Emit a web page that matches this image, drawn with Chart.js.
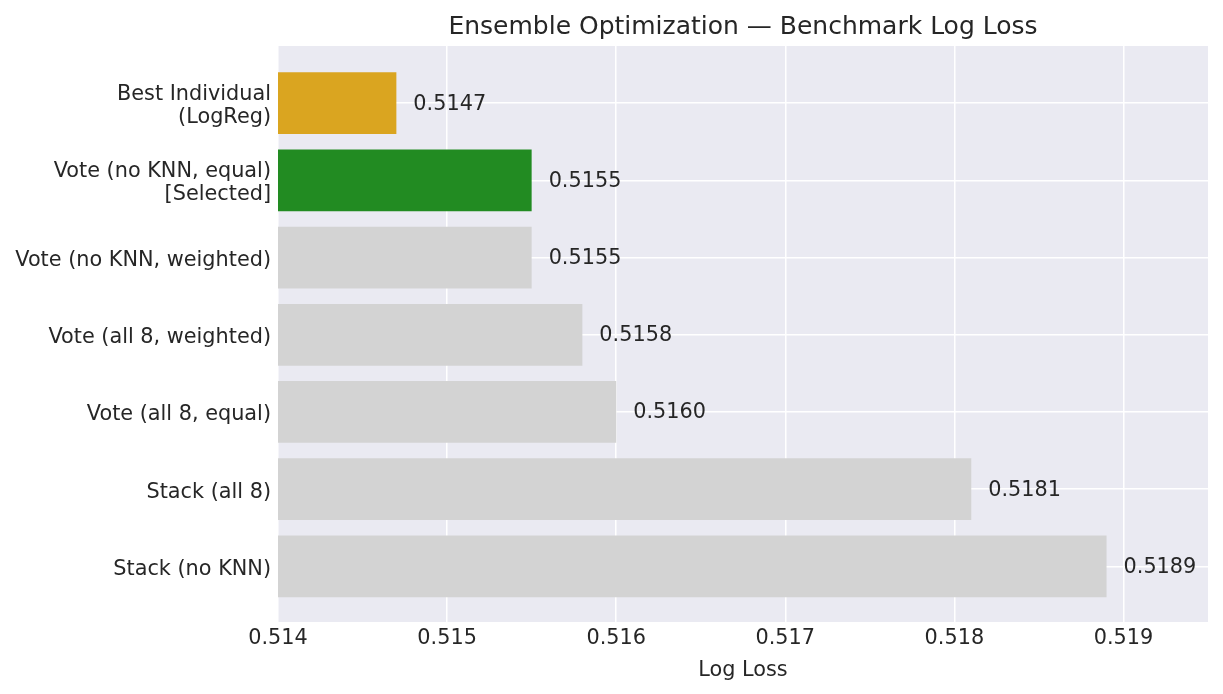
<!DOCTYPE html>
<html>
<head>
<meta charset="utf-8">
<script src="https://cdn.jsdelivr.net/npm/chart.js@4/dist/chart.umd.min.js"></script>
<style>
  body { margin: 0; background: #fff; }
</style>
</head>
<body>
<canvas id="chart" width="1223" height="694"></canvas>
<script>
const labels = [
  ["Best Individual", "(LogReg)"],
  ["Vote (no KNN, equal)", "[Selected]"],
  "Vote (no KNN, weighted)",
  "Vote (all 8, weighted)",
  "Vote (all 8, equal)",
  "Stack (all 8)",
  "Stack (no KNN)",
];
const logLoss = [0.5147, 0.5155, 0.5155, 0.5158, 0.5160, 0.5181, 0.5189];
const barColors = ["#DAA520", "#228B22", "#D3D3D3", "#D3D3D3", "#D3D3D3", "#D3D3D3", "#D3D3D3"];
const xMin = 0.514;
const xMax = 0.5195;

const textColor = "#262626";
const fontFamily = "'DejaVu Sans', sans-serif";

// seaborn-like grey plot background
const plotBg = {
  id: "plotBg",
  beforeDraw(chart) {
    const { ctx, chartArea: a } = chart;
    ctx.save();
    ctx.fillStyle = "#EAEAF2";
    ctx.fillRect(a.left, a.top, a.right - a.left, a.bottom - a.top);
    ctx.restore();
  },
};

// value labels to the right of each bar
const valueLabels = {
  id: "valueLabels",
  afterDatasetsDraw(chart) {
    const { ctx } = chart;
    const meta = chart.getDatasetMeta(0);
    ctx.save();
    ctx.fillStyle = textColor;
    ctx.font = "20.8px " + fontFamily;
    ctx.textAlign = "left";
    ctx.textBaseline = "middle";
    meta.data.forEach((bar, i) => {
      ctx.fillText(logLoss[i].toFixed(4), bar.x + 17, bar.y + 1);
    });
    ctx.restore();
  },
};

const ctx = document.getElementById("chart").getContext("2d");

new Chart(ctx, {
  type: "bar",
  data: {
    datasets: [
      {
        data: logLoss.map((v, i) => ({ x: v, y: i })),
        backgroundColor: barColors,
        borderWidth: 0,
        barPercentage: 0.8,
        categoryPercentage: 1,
      },
    ],
  },
  options: {
    indexAxis: "y",
    responsive: false,
    animation: false,
    layout: { padding: { left: 0, right: 15, top: 0, bottom: 0 } },
    plugins: {
      legend: { display: false },
      tooltip: { enabled: false },
      title: {
        display: true,
        text: "Ensemble Optimization — Benchmark Log Loss",
        color: textColor,
        fullSize: false,
        font: { family: fontFamily, size: 25, weight: "normal", lineHeight: 1.2 },
        padding: { top: 12, bottom: 4 },
      },
    },
    scales: {
      x: {
        type: "linear",
        min: xMin,
        max: xMax,
        grid: { color: "#ffffff", lineWidth: 1.5, drawTicks: false },
        border: { display: false },
        ticks: {
          stepSize: 0.001,
          includeBounds: false,
          color: textColor,
          padding: 4,
          font: { family: fontFamily, size: 20.8, lineHeight: 1.2 },
          callback: (v) => Number(v).toFixed(3),
        },
        title: {
          display: true,
          text: "Log Loss",
          color: textColor,
          font: { family: fontFamily, size: 20.8, lineHeight: 1.2 },
          padding: { top: 0, bottom: 10.5 },
        },
        afterFit(scale) {
          scale.height = 72;
        },
      },
      y: {
        type: "linear",
        min: -0.74,
        max: 6.72,
        reverse: true,
        offset: false,
        grid: { color: "#ffffff", lineWidth: 1.5, drawTicks: false, offset: false },
        border: { display: false },
        ticks: {
          stepSize: 1,
          includeBounds: false,
          autoSkip: false,
          color: textColor,
          padding: 7,
          labelOffset: 3,
          font: { family: fontFamily, size: 20.8, lineHeight: 1.1 },
          callback: (v) => (Number.isInteger(v) ? labels[v] : ""),
        },
        afterFit(scale) {
          scale.width = 278;
        },
      },
    },
  },
  plugins: [plotBg, valueLabels],
});
</script>
</body>
</html>
